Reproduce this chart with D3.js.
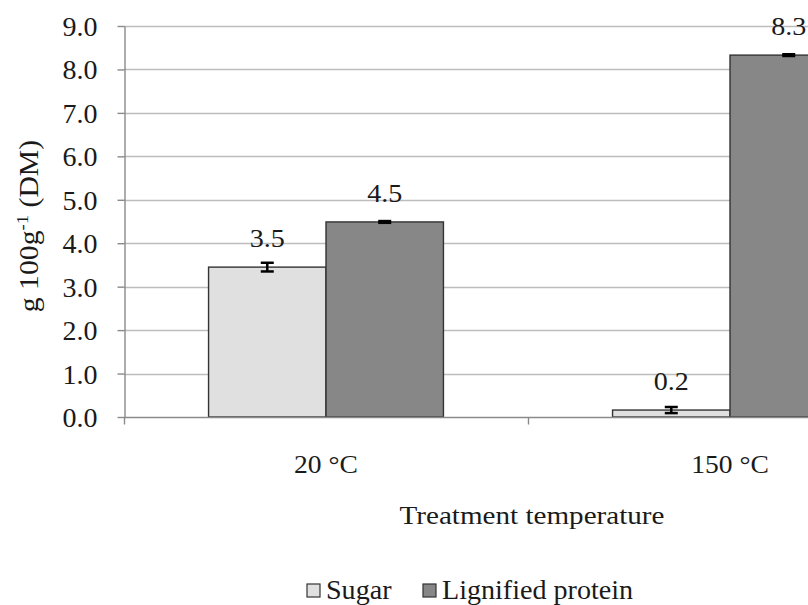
<!DOCTYPE html>
<html>
<head>
<meta charset="utf-8">
<script src="https://cdn.jsdelivr.net/npm/d3@7"></script>
<style>
  html, body { margin: 0; padding: 0; background: #fff; }
  svg { display: block; font-family: "Liberation Serif", "Times New Roman", serif; }
</style>
</head>
<body>
<svg id="chart" width="808" height="605"></svg>
<script>
// Treatment temperatures and measured contents (g 100g-1 DM)
const categories = ["20 °C", "150 °C"];
const seriesNames = ["Sugar", "Lignified protein"];
const sugarValues = [3.45, 0.16];
const sugarErrors = [0.10, 0.07];
const ligninValues = [4.49, 8.33];
const ligninErrors = [0.02, 0.02];
const valueLabels = [["3.5", "0.2"], ["4.5", "8.3"]];
const yTicks = [0, 1, 2, 3, 4, 5, 6, 7, 8, 9];

const seriesColors = ["#e0e0e0", "#878787"];
const SERIF = "Liberation Serif, Times New Roman, serif";
const TEXT_COL = "#1a1a1a";

const svg = d3.select("#chart");
const plot = { left: 124, right: 932, top: 26, bottom: 417 };

const x = d3.scaleBand().domain(categories).range([plot.left, plot.right]);
const xs = d3.scaleBand().domain(seriesNames).range([0, x.bandwidth()]).paddingOuter(0.72).paddingInner(0);
const y = d3.scaleLinear().domain([0, 9]).range([plot.bottom, plot.top]);

// widen a text element horizontally by factor k
function stretch(sel, k) {
  sel.each(function () {
    const w = this.getComputedTextLength();
    d3.select(this).attr("textLength", w * k).attr("lengthAdjust", "spacingAndGlyphs");
  });
  return sel;
}

// horizontal gridlines
svg.append("g").selectAll("line").data(yTicks.filter(d => d > 0)).join("line")
  .attr("x1", plot.left).attr("x2", plot.right)
  .attr("y1", d => Math.round(y(d)) + 0.5).attr("y2", d => Math.round(y(d)) + 0.5)
  .attr("stroke", "#bdbdbd").attr("stroke-width", 1.4);

// bars
const rows = [];
categories.forEach((c, i) => {
  rows.push({ cat: c, s: seriesNames[0], v: sugarValues[i], e: sugarErrors[i], lab: valueLabels[0][i], col: seriesColors[0] });
  rows.push({ cat: c, s: seriesNames[1], v: ligninValues[i], e: ligninErrors[i], lab: valueLabels[1][i], col: seriesColors[1] });
});

svg.append("g").selectAll("rect").data(rows).join("rect")
  .attr("x", d => x(d.cat) + xs(d.s))
  .attr("y", d => y(d.v))
  .attr("width", xs.bandwidth())
  .attr("height", d => y(0) - y(d.v))
  .attr("fill", d => d.col)
  .attr("stroke", "#333").attr("stroke-width", 1.4);

// error bars
const errG = svg.append("g").attr("stroke", "#000").attr("stroke-width", 2.5);
rows.forEach(d => {
  const cx = x(d.cat) + xs(d.s) + xs.bandwidth() / 2;
  const y1 = y(d.v + d.e), y2 = y(d.v - d.e);
  errG.append("line").attr("x1", cx).attr("x2", cx).attr("y1", y1).attr("y2", y2);
  errG.append("line").attr("x1", cx - 6.5).attr("x2", cx + 6.5).attr("y1", y1).attr("y2", y1);
  errG.append("line").attr("x1", cx - 6.5).attr("x2", cx + 6.5).attr("y1", y2).attr("y2", y2);
});

// value labels
svg.append("g").selectAll("text").data(rows).join("text")
  .attr("x", d => x(d.cat) + xs(d.s) + xs.bandwidth() / 2)
  .attr("y", d => y(d.v) - 20)
  .attr("text-anchor", "middle")
  .attr("font-size", 26).attr("fill", TEXT_COL)
  .text(d => d.lab)
  .call(stretch, 1.08);

// y axis
const yAxis = svg.append("g").attr("transform", `translate(${plot.left + 0.5},0)`)
  .call(d3.axisLeft(y).tickValues(yTicks).tickFormat(d3.format(".1f")).tickSizeInner(7).tickSizeOuter(0).tickPadding(20));
yAxis.attr("font-family", SERIF);
yAxis.select(".domain").attr("stroke", "#8a8a8a").attr("stroke-width", 1.4);
yAxis.selectAll(".tick line").attr("stroke", "#8a8a8a").attr("stroke-width", 1.4);
yAxis.selectAll(".tick text").attr("font-size", 28).attr("fill", TEXT_COL).attr("dy", "0.34em");

// x axis baseline and category separators
const xAxisG = svg.append("g").attr("transform", `translate(0,${plot.bottom + 0.5})`);
xAxisG.append("line").attr("x1", plot.left).attr("x2", plot.right)
  .attr("stroke", "#8a8a8a").attr("stroke-width", 1.4);
const edges = categories.map(c => x(c)).concat([x(categories[categories.length - 1]) + x.bandwidth()]);
xAxisG.selectAll("line.sep").data(edges).join("line").attr("class", "sep")
  .attr("x1", d => d + 0.5).attr("x2", d => d + 0.5).attr("y1", 0).attr("y2", 7)
  .attr("stroke", "#8a8a8a").attr("stroke-width", 1.4);
xAxisG.selectAll("text").data(categories).join("text")
  .attr("x", d => x(d) + x.bandwidth() / 2)
  .attr("y", 55)
  .attr("text-anchor", "middle").attr("font-size", 26).attr("fill", TEXT_COL)
  .text(d => d)
  .call(stretch, 1.06);

// axis titles
svg.append("text").attr("x", 532).attr("y", 524).attr("text-anchor", "middle")
  .attr("font-size", 26).attr("fill", TEXT_COL).text("Treatment temperature")
  .call(stretch, 1.12);

const yt = svg.append("text").attr("transform", "translate(38,226) rotate(-90)")
  .attr("text-anchor", "middle").attr("font-size", 27).attr("fill", TEXT_COL);
yt.append("tspan").text("g  100g");
yt.append("tspan").attr("dy", -10).attr("font-size", 17).text("-1");
yt.append("tspan").attr("dy", 10).text(" (DM)");
yt.call(stretch, 1.1);

// legend
const legend = svg.append("g");
const legendItems = [
  { name: seriesNames[0], col: seriesColors[0], x: 307 },
  { name: seriesNames[1], col: seriesColors[1], x: 423 }
];
legendItems.forEach(it => {
  legend.append("rect").attr("x", it.x).attr("y", 584).attr("width", 13).attr("height", 13)
    .attr("fill", it.col).attr("stroke", "#333").attr("stroke-width", 1.2);
  legend.append("text").attr("x", it.x + 19).attr("y", 599)
    .attr("font-size", 27).attr("fill", TEXT_COL).text(it.name)
    .call(stretch, 1.04);
});
</script>
</body>
</html>
